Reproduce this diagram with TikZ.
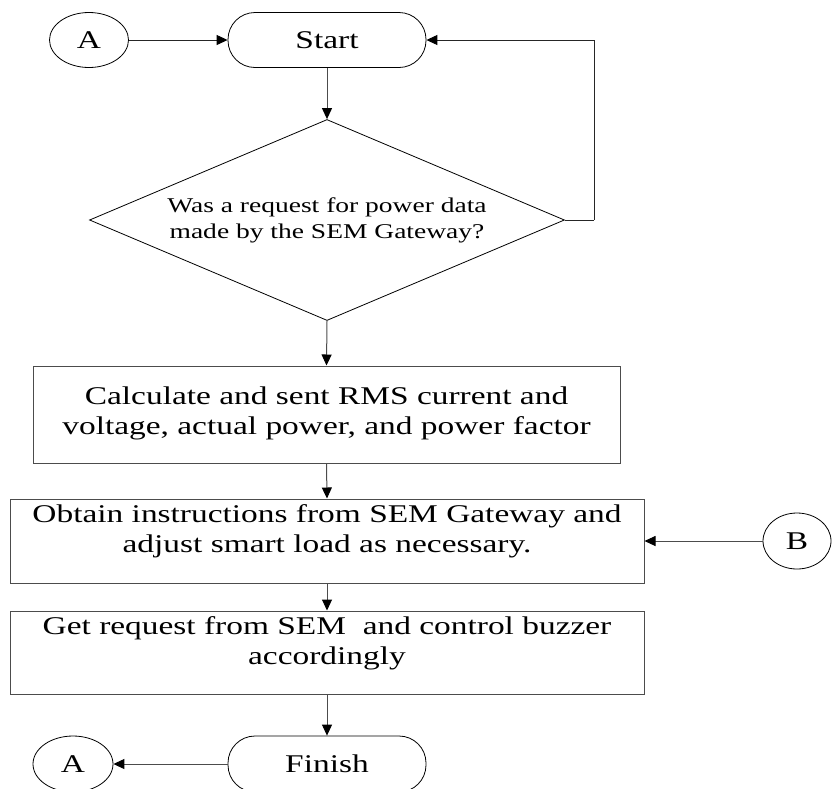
\documentclass[tikz,border=0pt]{standalone}
\usepackage{fontspec}
\setmainfont[FakeStretch=1.31]{Liberation Serif}
\usetikzlibrary{shapes.geometric,arrows.meta}
\begin{document}
\begin{tikzpicture}[x=1pt,y=-1pt,
  conn/.style={draw=black!70, line width=1pt, -{Triangle[length=11pt,width=10pt,color=black]}},
  plainline/.style={draw=black!85, line width=1pt},
  connector/.style={draw, ellipse, line width=0.8pt, inner sep=0pt, font=\fontsize{25.5}{30}\selectfont},
  terminal/.style={draw, rounded corners=27pt, line width=0.8pt, inner sep=0pt, font=\fontsize{25.5}{30}\selectfont},
  procbox/.style={draw=black!70, line width=1pt, inner sep=0pt},
  boxtext/.style={align=center, inner sep=0pt, font=\fontsize{25.5}{30}\selectfont},
  decision/.style={draw, diamond, line width=0.8pt, inner sep=0pt, align=center, font=\fontsize{21}{26}\selectfont}
]
\useasboundingbox (0,0) rectangle (832,788);

\node[connector, minimum width=79pt, minimum height=55pt] (a1) at (89,40) {A};
\node[terminal, minimum width=198pt, minimum height=55pt] (start) at (327,40) {Start};
\node[decision, minimum width=475pt, minimum height=201pt, aspect=2.36] (dec) at (327,220)
  {Was a request for power data\\made by the SEM Gateway?};
\coordinate (loop) at (594,220);

\node[procbox, minimum width=587pt, minimum height=97pt] (box1) at (326.5,414.5) {};
\node[boxtext] (t1) at (326.5,413) {Calculate and sent RMS current and\\voltage, actual power, and power factor};

\node[procbox, minimum width=634pt, minimum height=84pt] (box2) at (327,541) {};
\node[boxtext] (t2) at (327,531) {Obtain instructions from SEM Gateway and\\adjust smart load as necessary.};
\node[connector, minimum width=68pt, minimum height=56pt] (b) at (797,541) {B};

\node[procbox, minimum width=634pt, minimum height=83pt] (box3) at (327,652.5) {};
\node[boxtext] (t3) at (327,643) {Get request from SEM\ \ and control buzzer\\accordingly};

\node[terminal, minimum width=198pt, minimum height=56pt] (finish) at (327,764) {Finish};
\node[connector, minimum width=80pt, minimum height=56pt] (a2) at (73,764) {A};

\draw[conn, draw=black!85] (a1) -- (start);
\draw[conn] (start) -- (dec.north);
\draw[plainline] (dec.east) -- (loop);
\draw[conn, draw=black!85] (loop) |- (start.east);
\draw[conn] (dec.south) -- (box1.north);
\draw[conn] (box1.south) -- (box2.north);
\draw[conn] (b) -- (box2.east);
\draw[conn] (box2.south) -- (box3.north);
\draw[conn] (box3.south) -- (finish.north);
\draw[conn] (finish) -- (a2);
\end{tikzpicture}
\end{document}
